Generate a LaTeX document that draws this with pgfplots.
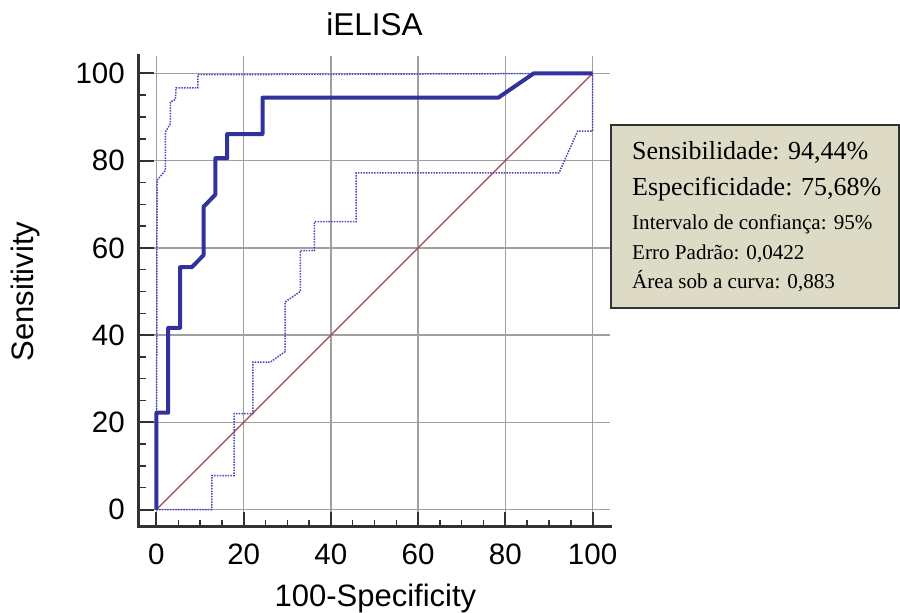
\documentclass[border=0pt]{standalone}
\usepackage{fontspec}
\setmainfont{Liberation Sans}
\newfontfamily\boxfont{Liberation Serif}
\usepackage{pgfplots}
\pgfplotsset{compat=1.18}
\definecolor{roc}{RGB}{50,50,155}
\definecolor{ci}{RGB}{70,70,190}
\definecolor{diag}{RGB}{165,70,70}
\definecolor{gridc}{RGB}{160,160,160}
\definecolor{spine}{RGB}{50,50,50}
\definecolor{boxfill}{RGB}{221,218,198}
\begin{document}
\begin{tikzpicture}
\useasboundingbox (0,0) rectangle (900pt,613pt);
\begin{axis}[
  at={(139pt,86pt)}, anchor=south west,
  scale only axis, width=471pt, height=471pt,
  xmin=-4, xmax=104, ymin=-4, ymax=104,
  axis lines*=left,
  axis line style={line width=3pt, spine, line cap=rect},
  xtick={0,20,...,100}, ytick={0,20,...,100},
  minor tick num=3,
  tick align=inside,
  major tick length=15pt, minor tick length=7pt,
  every major tick/.append style={line width=2pt, spine},
  every minor tick/.append style={line width=1.5pt, spine},
  grid=major,
  major grid style={gridc, line width=1.5pt},
  /pgf/number format/assume math mode=true,
  tick label style={font=\fontsize{29.5}{34}\selectfont},
  xticklabel style={anchor=north, inner sep=0pt, yshift=-17pt},
  yticklabel style={anchor=east, inner sep=0pt, xshift=-14pt},
  title={iELISA},
  title style={at={(axis description cs:0.5,1)}, anchor=base, yshift=14pt, inner sep=0pt, font=\fontsize{31.5}{36}\selectfont},
  xlabel={100-Specificity},
  xlabel style={at={(axis description cs:0.502,0)}, anchor=base, yshift=-80pt, inner sep=0pt, font=\fontsize{31}{36}\selectfont},
  ylabel={Sensitivity},
  ylabel style={at={(axis description cs:-0.225,0.5)}, anchor=base, inner sep=0pt, font=\fontsize{31}{36}\selectfont},
]
% diagonal reference line
\addplot[diag, line width=1.3pt] coordinates {(0,0) (100,100)};
% lower confidence band
\addplot[ci, line width=1.5pt, dash pattern=on 1.5pt off 1.2pt] coordinates {
(0,0) (12.7,0) (12.7,7.8) (17.8,7.8) (17.8,22) (22.1,22) (22.1,33.8) (26.1,33.8)
(29.5,36.2) (29.5,47.6) (33,50) (33,59.4) (36.2,59.4) (36.2,66) (45.8,66)
(45.8,77.2) (92.3,77.2) (96.6,86.8) (100,86.8) (100,100)};
% upper confidence band
\addplot[ci, line width=1.5pt, dash pattern=on 1.5pt off 1.2pt] coordinates {
(0,0) (0.15,75.5) (2.06,77.8) (2.06,86.6) (3.2,88.5) (3.2,93.5) (4.35,94.0)
(4.5,96.7) (9.5,96.7) (9.5,99.7) (100,100)};
% ROC curve
\addplot[roc, line width=4pt, line join=round] coordinates {
(0,0) (0,22.22) (2.70,22.22) (2.70,41.67) (5.41,41.67) (5.41,55.56) (8.11,55.56)
(10.81,58.33) (10.81,69.44) (13.51,72.22) (13.51,80.56) (16.22,80.56) (16.22,86.11)
(24.32,86.11) (24.32,94.44) (78.38,94.44) (86.49,100) (100,100)};
\end{axis}
\draw[spine, line width=1.5pt, fill=boxfill] (611pt,488pt) rectangle (899pt,305pt);
\node[anchor=base west, inner sep=0pt, font=\boxfont\fontsize{26}{30}\selectfont] at (632pt,453pt) {Sensibilidade: 94,44\%};
\node[anchor=base west, inner sep=0pt, font=\boxfont\fontsize{26}{30}\selectfont] at (632pt,417pt) {Especificidade: 75,68\%};
\node[anchor=base west, inner sep=0pt, font=\boxfont\fontsize{21.1}{25}\selectfont] at (632pt,383pt) {Intervalo de confiança: 95\%};
\node[anchor=base west, inner sep=0pt, font=\boxfont\fontsize{21.1}{25}\selectfont] at (632pt,353.7pt) {Erro Padrão: 0,0422};
\node[anchor=base west, inner sep=0pt, font=\boxfont\fontsize{21.1}{25}\selectfont] at (632pt,324.7pt) {Área sob a curva: 0,883};
\end{tikzpicture}
\end{document}
